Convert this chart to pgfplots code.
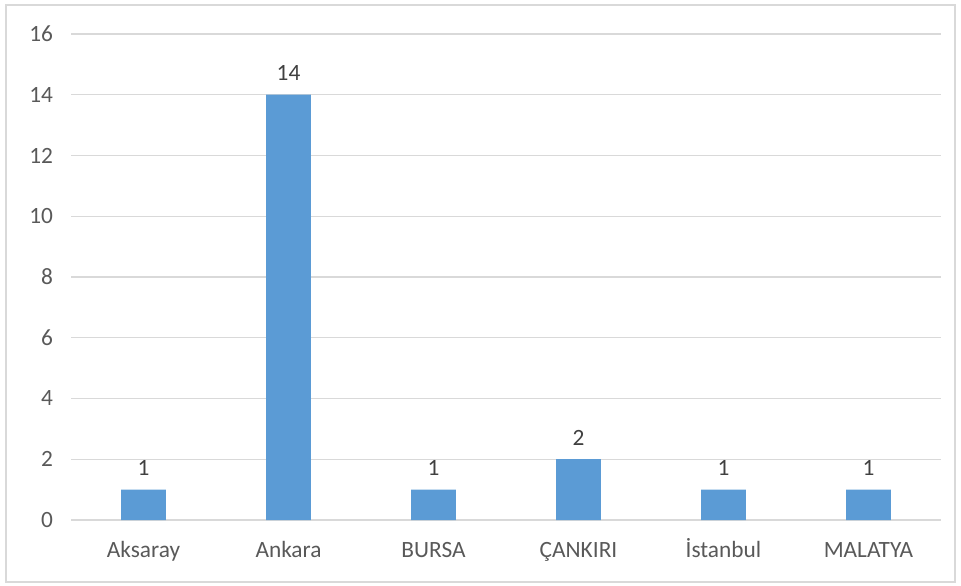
\documentclass[border=0pt]{standalone}
\usepackage{pgfplots}
\pgfplotsset{compat=1.18}
\usepackage{fontspec}
\setmainfont{Carlito}
\definecolor{barblue}{HTML}{5B9BD5}
\definecolor{gridgray}{HTML}{D9D9D9}
\definecolor{ticktext}{HTML}{595959}
\definecolor{labeltext}{HTML}{404040}
\begin{document}
\begin{tikzpicture}[x=0.75bp,y=0.75bp]
\path[use as bounding box] (0,0) rectangle (961,586);
\draw[gridgray,line width=1.5bp] (6,4) rectangle (955,581);
\begin{axis}[
  at={(71*0.75bp,66*0.75bp)}, anchor=south west,
  scale only axis,
  width=652.5bp, height=364.5bp,
  xmin=-0.5, xmax=5.5, ymin=0, ymax=16,
  ytick={0,2,...,16},
  xtick=data,
  xticklabels={Aksaray,Ankara,BURSA,ÇANKIRI,İstanbul,MALATYA},
  axis line style={draw=none},
  major tick length=0pt,
  ymajorgrids, grid style={gridgray,line width=0.9bp},
  tick label style={font=\fontsize{17.5bp}{20bp}\selectfont, text=ticktext},
  /pgf/number format/assume math mode=true,
  yticklabel style={xshift=-10bp},
  xticklabel style={anchor=base, yshift=-28bp},
  ybar, bar width=0.31,
  nodes near coords,
  every node near coord/.append style={font=\fontsize{17.5bp}{20bp}\selectfont, text=labeltext, yshift=7bp},
  clip=false,
]
\addplot[fill=barblue, draw=none] coordinates {(0,1) (1,14) (2,1) (3,2) (4,1) (5,1)};
\end{axis}
\end{tikzpicture}
\end{document}
